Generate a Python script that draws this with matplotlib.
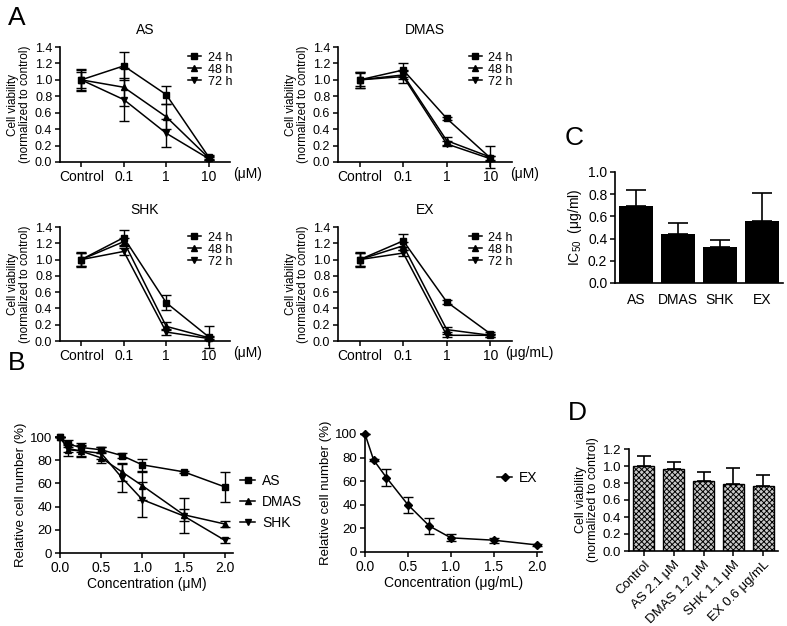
import numpy as np
import matplotlib
matplotlib.use("Agg")
import matplotlib.pyplot as plt
from matplotlib.lines import Line2D

plt.rcParams['font.family'] = ['Liberation Sans', 'DejaVu Sans']
plt.rcParams['mathtext.fontset'] = 'custom'
plt.rcParams['mathtext.rm'] = 'Liberation Sans'
plt.rcParams['hatch.linewidth'] = 0.7

W, H = 787, 626

# ---- Panel A data (cell viability, normalized) ----
doses = ['Control', '0.1', '1', '10']
hours = ['24 h', '48 h', '72 h']
markers_A = ['s', '^', 'v']

as_mean = [[1.00, 1.17, 0.82, 0.06], [1.00, 0.91, 0.55, 0.05], [1.00, 0.76, 0.35, 0.04]]
as_err = [[0.13, 0.17, 0.11, 0.02], [0.10, 0.23, 0.15, 0.02], [0.12, 0.26, 0.17, 0.02]]
dmas_mean = [[1.00, 1.12, 0.53, 0.05], [1.00, 1.06, 0.26, 0.06], [1.00, 1.04, 0.22, 0.04]]
dmas_err = [[0.10, 0.08, 0.02, 0.02], [0.10, 0.05, 0.05, 0.13], [0.08, 0.08, 0.03, 0.03]]
shk_mean = [[1.00, 1.27, 0.47, 0.05], [1.00, 1.22, 0.18, 0.04], [1.00, 1.10, 0.11, 0.03]]
shk_err = [[0.09, 0.09, 0.09, 0.14], [0.08, 0.05, 0.05, 0.02], [0.08, 0.04, 0.04, 0.02]]
ex_mean = [[1.00, 1.23, 0.48, 0.09], [1.00, 1.17, 0.14, 0.07], [1.00, 1.08, 0.07, 0.07]]
ex_err = [[0.09, 0.08, 0.02, 0.02], [0.08, 0.05, 0.03, 0.02], [0.08, 0.04, 0.02, 0.02]]

# ---- Panel B data (relative cell number, %) ----
conc = [0, 0.1, 0.25, 0.5, 0.75, 1.0, 1.5, 2.0]
b_as = [100, 94, 91, 89, 84, 76, 70, 57]
b_as_err = [0, 3, 4, 2, 2, 5, 1, 13]
b_dmas = [100, 89, 88, 82, 70, 58, 33, 25]
b_dmas_err = [0, 5, 4, 4, 8, 12, 5, 3]
b_shk = [100, 90, 88, 86, 65, 46, 32, 11]
b_shk_err = [0, 3, 5, 5, 12, 15, 15, 2]
b_ex = [100, 78, 63, 40, 22, 12, 10, 6]
b_ex_err = [0, 1, 7, 7, 7, 3, 2, 1]

# ---- Panel C data (IC50) ----
c_names = ['AS', 'DMAS', 'SHK', 'EX']
c_vals = [0.69, 0.44, 0.32, 0.56]
c_err = [0.15, 0.10, 0.07, 0.25]

# ---- Panel D data ----
d_names = ['Control', 'AS 2.1 μM', 'DMAS 1.2 μM', 'SHK 1.1 μM', 'EX 0.6 μg/mL']
d_vals = [1.00, 0.97, 0.82, 0.79, 0.76]
d_err = [0.12, 0.08, 0.11, 0.19, 0.14]

fig = plt.figure(figsize=(W / 100, H / 100), dpi=100)


def px_axes(l, t, r, b):
    return fig.add_axes([l / W, 1 - b / H, (r - l) / W, (b - t) / H])


def prism_style(ax, fs=9.5):
    for s in ['top', 'right']:
        ax.spines[s].set_visible(False)
    for s in ['left', 'bottom']:
        ax.spines[s].set_linewidth(1.2)
    ax.tick_params(direction='out', length=3.5, width=1.1, labelsize=fs, pad=2)


def handles(mks, ms=5):
    return [Line2D([], [], color='black', marker=m, ms=ms, lw=1.1) for m in mks]


def panel_A(box, title, means, errs, unit, unit_x):
    ax = px_axes(*box)
    prism_style(ax, 9)
    x = np.arange(len(doses))
    for m, e, mk in zip(means, errs, markers_A):
        ax.errorbar(x, m, yerr=e, color='black', marker=mk, ms=5, lw=1.1,
                    elinewidth=1, capsize=3.5, capthick=1, clip_on=False)
    ax.set_xlim(-0.5, 3.5)
    ax.set_ylim(0, 1.4)
    ax.set_yticks(np.arange(0, 1.41, 0.2))
    ax.set_yticklabels([f'{v:.1f}' for v in np.arange(0, 1.41, 0.2)])
    ax.set_xticks(x)
    ax.set_xticklabels(doses, fontsize=10)
    ax.set_title(title, fontsize=10, pad=9)
    ax.set_ylabel('Cell viability\n(normalized to control)', fontsize=8.5, labelpad=3,
                  linespacing=1.0)
    ax.text(unit_x, -0.105, unit, transform=ax.transAxes, ha='center', va='center',
            fontsize=10)
    ax.legend(handles(markers_A), hours, loc='upper left', bbox_to_anchor=(0.75, 0.96),
              frameon=False, fontsize=9, handlelength=1.1, handletextpad=0.5,
              labelspacing=0.0, borderpad=0, borderaxespad=0)
    return ax


panel_A((60, 47, 230, 162), 'AS', as_mean, as_err, '(μM)', 1.105)
panel_A((338, 47, 512, 162), 'DMAS', dmas_mean, dmas_err, '(μM)', 1.075)
panel_A((60, 227, 230, 341), 'SHK', shk_mean, shk_err, '(μM)', 1.105)
panel_A((338, 227, 512, 341), 'EX', ex_mean, ex_err, '(μg/mL)', 1.10)

# ---- Panel B left ----
ax = px_axes(60, 437, 233, 553)
prism_style(ax, 9.5)
b_marks = ['s', '^', 'v']
for y, e, mk in zip([b_as, b_dmas, b_shk], [b_as_err, b_dmas_err, b_shk_err], b_marks):
    ax.errorbar(conc, y, yerr=e, color='black', marker=mk, ms=5, lw=1.1,
                elinewidth=1, capsize=3.5, capthick=1, clip_on=False)
ax.set_xlim(0, 2.1)
ax.set_ylim(0, 100)
ax.set_xticks(np.arange(0, 2.01, 0.5))
ax.set_xticklabels([f'{v:.1f}' for v in np.arange(0, 2.01, 0.5)], fontsize=10)
ax.set_yticks(np.arange(0, 101, 20))
ax.set_xlabel('Concentration (μM)', fontsize=10, labelpad=2)
ax.set_ylabel('Relative cell number (%)', fontsize=9.5, labelpad=2)
ax.legend(handles(b_marks), ['AS', 'DMAS', 'SHK'], loc='upper left',
          bbox_to_anchor=(1.04, 0.68), frameon=False, fontsize=10, handlelength=1.1,
          handletextpad=0.5, labelspacing=0.5, borderpad=0, borderaxespad=0)

# ---- Panel B right ----
ax = px_axes(365, 434, 542, 552)
prism_style(ax, 9.5)
ax.errorbar(conc, b_ex, yerr=b_ex_err, color='black', marker='D', ms=4.5, lw=1.1,
            elinewidth=1, capsize=3.5, capthick=1, clip_on=False)
ax.set_xlim(0, 2.06)
ax.set_ylim(0, 100)
ax.set_xticks(np.arange(0, 2.01, 0.5))
ax.set_xticklabels([f'{v:.1f}' for v in np.arange(0, 2.01, 0.5)], fontsize=10)
ax.set_yticks(np.arange(0, 101, 20))
ax.set_xlabel('Concentration (μg/mL)', fontsize=10, labelpad=2)
ax.set_ylabel('Relative cell number (%)', fontsize=9.5, labelpad=2)
ax.legend(handles(['D'], 4.5), ['EX'], loc='upper left', bbox_to_anchor=(0.745, 0.69),
          frameon=False, fontsize=10, handlelength=1.1, handletextpad=0.5, borderpad=0,
          borderaxespad=0)

# ---- Panel C ----
ax = px_axes(615, 172, 783, 283)
prism_style(ax, 10)
xc = np.arange(len(c_names))
ax.bar(xc, c_vals, width=0.8, color='black',
       yerr=[np.zeros(len(c_err)), c_err],
       error_kw=dict(ecolor='black', elinewidth=1.2, capsize=7, capthick=1.2))
ax.set_xlim(-0.5, 3.5)
ax.set_ylim(0, 1.0)
ax.set_yticks(np.arange(0, 1.01, 0.2))
ax.set_yticklabels([f'{v:.1f}' for v in np.arange(0, 1.01, 0.2)])
ax.set_xticks(xc)
ax.set_xticklabels(c_names, fontsize=10)
ax.tick_params(axis='x', length=0, pad=7)
ax.set_ylabel(r'IC$_{\mathrm{50}}$  (μg/ml)', fontsize=10, labelpad=3)

# ---- Panel D ----
ax = px_axes(629, 449, 778, 551)
prism_style(ax, 9.5)
xd = np.arange(len(d_names))
ax.bar(xd, d_vals, width=0.7, color='#c8c8c8', edgecolor='black', hatch='xxxxxx',
       linewidth=1, yerr=[np.zeros(len(d_err)), d_err],
       error_kw=dict(ecolor='black', elinewidth=1.2, capsize=5, capthick=1.2))
ax.set_xlim(-0.5, 4.5)
ax.set_ylim(0, 1.2)
ax.set_yticks(np.arange(0, 1.21, 0.2))
ax.set_yticklabels([f'{v:.1f}' for v in np.arange(0, 1.21, 0.2)])
ax.set_xticks(xd)
ax.set_xticklabels(d_names, rotation=45, ha='right', rotation_mode='anchor', fontsize=9.5)
ax.set_ylabel('Cell viability\n(normalized to control)', fontsize=9, labelpad=3,
              linespacing=1.0)

# ---- Panel letters ----
for letter, x, y in [('A', 8, 25), ('B', 8, 370), ('C', 565, 145), ('D', 568, 420)]:
    fig.text(x / W, 1 - y / H, letter, fontsize=19, ha='left', va='baseline')

fig.savefig('out.png', dpi=100)
